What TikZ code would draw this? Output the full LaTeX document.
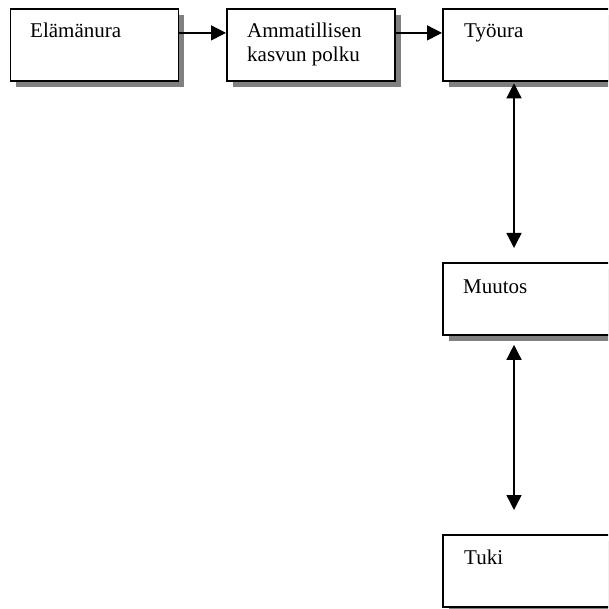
\documentclass[tikz,border=0pt]{standalone}
\usepackage{fontspec}
\setmainfont{Liberation Serif}
\usetikzlibrary{arrows.meta,shadows}
\begin{document}
\begin{tikzpicture}[x=1pt,y=-1pt,
  box/.style={draw=black,line width=1.8pt,fill=white,minimum width=168pt,
    minimum height=72pt,inner sep=0pt,anchor=north west,
    drop shadow={shadow xshift=6pt,shadow yshift=-6pt,fill=black!50,opacity=1}},
  lbl/.style={anchor=base west,inner sep=0pt,align=left,
    font=\fontsize{21}{24}\selectfont},
  link/.style={line width=1.4pt,-{Triangle[length=15pt,width=15pt]}},
  both/.style={line width=1.4pt,
    {Triangle[length=15pt,width=15pt]}-{Triangle[length=15pt,width=15pt]}}]
  \useasboundingbox (0,0) rectangle (608,609);
  \clip (0,0) rectangle (608,609);

  % boxes
  \node[box] (ela) at (9.5,8) {};
  \node[box] (amm) at (226,8) {};
  \node[box] (tyo) at (442,8) {};
  \node[box] (muu) at (442,262) {};
  \node[box] (tuk) at (442,534) {};

  % box texts (a two-line node sits on the baseline of its last line)
  \node[lbl] (elat) at (30,38) {Elämänura};
  \node[lbl] (ammt) at (247,62) {Ammatillisen\\kasvun polku};
  \node[lbl] (tyot) at (464,38) {Työura};
  \node[lbl] (muut) at (463,293) {Muutos};
  \node[lbl] (tukt) at (464,564) {Tuki};

  % connectors
  \draw[link] ([yshift=12pt]ela.east) -- ([yshift=12pt]amm.west);
  \draw[link] ([yshift=12pt]amm.east) -- ([yshift=12pt]tyo.west);
  \draw[both,shorten <=1.5pt,shorten >=14pt]
    ([xshift=72pt]tyo.south west) -- ([xshift=72pt]muu.north west);
  \draw[both,shorten <=9pt,shorten >=24pt]
    ([xshift=72pt]muu.south west) -- ([xshift=72pt]tuk.north west);
\end{tikzpicture}
\end{document}
